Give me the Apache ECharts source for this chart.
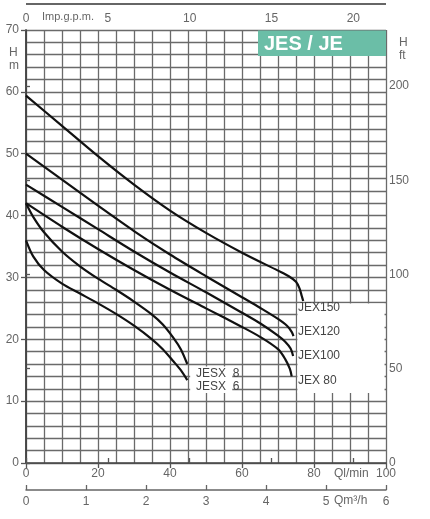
<!DOCTYPE html>
<html><head><meta charset="utf-8">
<script src="https://cdn.jsdelivr.net/npm/echarts@6/dist/echarts.min.js"></script>
<style>html,body{margin:0;padding:0;background:#fff}#c{width:430px;height:519px}</style>
</head><body><div id="c"></div>
<script>
// Flow (l/min) and head (m)
const flowJEX150 = [0, 10, 20, 30, 40, 50, 60, 70, 73, 75, 76, 76.6, 77];
const headJEX150 = [59.4, 54.5, 49.6, 45.0, 40.8, 37.2, 34.0, 31.1, 30.2, 29.3, 28.2, 27.0, 26.2];
const flowJEX120 = [0, 10, 20, 30, 40, 50, 60, 65, 70, 72.5, 73.8, 74.3];
const headJEX120 = [50, 45.8, 41.6, 37.5, 33.7, 30.2, 26.8, 25.1, 23.3, 22.2, 21.2, 20.5];
const flowJEX100 = [0, 10, 20, 30, 40, 50, 60, 65, 70, 72, 73.5, 74.2];
const headJEX100 = [45, 41.4, 37.8, 34.2, 30.8, 27.6, 24.3, 22.6, 20.6, 19.6, 18.5, 17.3];
const flowJEX80 = [0, 10, 20, 30, 40, 50, 60, 65, 70, 72, 73.3, 73.8];
const headJEX80 = [42, 38.2, 34.6, 31.2, 28.0, 25.0, 22.0, 20.4, 18.4, 16.8, 15.2, 14.0];
const flowJESX8 = [0, 2, 5, 10, 15, 20, 25, 30, 35, 38, 41, 43, 44.8];
const headJESX8 = [42, 39.8, 37.3, 34.2, 31.8, 29.8, 28.0, 26.1, 24.0, 22.4, 20.2, 18.4, 16.0];
const flowJESX6 = [0, 2, 5, 10, 15, 20, 25, 30, 35, 38, 41, 43, 44.8];
const headJESX6 = [36, 33.4, 31.2, 29.0, 27.4, 25.8, 24.1, 22.2, 20.0, 18.4, 16.4, 15.0, 13.4];
const seriesNames = ['JEX150', 'JEX120', 'JEX100', 'JEX 80', 'JESX 8', 'JESX 6'];
const flows = [flowJEX150, flowJEX120, flowJEX100, flowJEX80, flowJESX8, flowJESX6];
const heads = [headJEX150, headJEX120, headJEX100, headJEX80, headJESX8, headJESX6];
const title = 'JES / JE';

const FONT = 'Liberation Sans';
const gridLine = {color: '#6a6a6a', width: 1.3};
const lbl = {color: '#666', fontSize: 12, fontFamily: FONT};

const chart = echarts.init(document.getElementById('c'), null, {renderer: 'canvas'});

const lineSeries = seriesNames.map((n, i) => ({
  name: n, type: 'line', xAxisIndex: 0, yAxisIndex: 0, z: 3,
  smooth: 0.3, symbol: 'none', silent: true,
  lineStyle: {color: '#111', width: 2.2},
  data: flows[i].map((q, j) => [q, heads[i][j]])
}));

const boxSeries = {
  type: 'line', data: [], z: 1, silent: true,
  markArea: {
    silent: true,
    itemStyle: {color: '#fff', opacity: 1},
    data: [
      [{coord: [75.4, 25.8]}, {coord: [99.6, 11.3]}],
      [{coord: [45.6, 15.6]}, {coord: [57.3, 11.3]}]
    ]
  }
};

const txt = (x, y, s, extra) => Object.assign({
  type: 'text', x: x, y: y, z: 50,
  style: Object.assign({text: s, fill: '#666', font: '12px ' + FONT, textVerticalAlign: 'middle'}, extra || {})
});

chart.setOption({
  animation: false,
  backgroundColor: '#fff',
  grid: {left: 26, right: 44, top: 30, bottom: 56, containLabel: false},
  xAxis: [
    {type: 'value', position: 'bottom', min: 0, max: 100, interval: 20,
     axisLine: {show: true, lineStyle: {color: '#444', width: 1.5}},
     axisTick: {show: true, length: 5, lineStyle: {color: '#555', width: 1.3}},
     axisLabel: Object.assign({margin: 5}, lbl),
     splitLine: {show: true, lineStyle: gridLine},
     minorTick: {show: false, splitNumber: 4},
     minorSplitLine: {show: true, lineStyle: gridLine}},
    {type: 'value', position: 'top', min: 0, max: 100 / 4.54609, interval: 5,
     axisLine: {show: false},
     axisTick: {show: true, length: 5, lineStyle: {color: '#555', width: 1.3}},
     axisLabel: Object.assign({margin: 5, showMaxLabel: false}, lbl),
     splitLine: {show: false}},
    {type: 'value', position: 'bottom', offset: 27, min: 0, max: 6, interval: 1,
     axisLine: {show: true, lineStyle: {color: '#666', width: 1.5}},
     axisTick: {show: true, inside: true, length: 5, lineStyle: {color: '#666', width: 1.3}},
     axisLabel: Object.assign({margin: 6}, lbl),
     splitLine: {show: false}}
  ],
  yAxis: [
    {type: 'value', position: 'left', min: 0, max: 70, interval: 10,
     axisLine: {show: true, lineStyle: {color: '#444', width: 1.5}},
     axisTick: {show: true, length: 5, lineStyle: {color: '#555', width: 1.3}},
     axisLabel: Object.assign({margin: 7}, lbl),
     splitLine: {show: true, lineStyle: gridLine},
     minorTick: {show: false, splitNumber: 5},
     minorSplitLine: {show: true, lineStyle: gridLine}},
    {type: 'value', position: 'right', min: 0, max: 70 / 0.3048, interval: 50,
     axisLine: {show: true, lineStyle: {color: '#444', width: 1.5}},
     axisTick: {show: true, length: 4, lineStyle: {color: '#555', width: 1.3}},
     axisLabel: Object.assign({margin: 3, showMaxLabel: false}, lbl),
     splitLine: {show: false}}
  ],
  series: lineSeries.concat([boxSeries]),
  graphic: [
    {type: 'rect', z: 60, left: 26, top: 3, shape: {x: 0, y: 0, width: 360, height: 2}, style: {fill: '#666'}},
    txt(42, 17, 'Imp.g.p.m.', {font: '11px ' + FONT}),
    txt(9, 53, 'H'), txt(9, 66, 'm'),
    txt(399, 43, 'H'), txt(399, 56, 'ft'),
    txt(334, 474, 'Ql/min'),
    txt(334, 501, 'Qm³/h'),
    txt(298, 308, 'JEX150', {fill: '#444'}),
    txt(298, 332, 'JEX120', {fill: '#444'}),
    txt(298, 356, 'JEX100', {fill: '#444'}),
    txt(298, 381, 'JEX 80', {fill: '#444'}),
    txt(196, 374, 'JESX  8', {fill: '#444'}),
    txt(196, 387, 'JESX  6', {fill: '#444'}),
    {type: 'rect', z: 60, shape: {x: 258, y: 30.5, width: 128, height: 25.5}, style: {fill: '#6bbea7'}},
    {type: 'text', z: 61, x: 264, y: 44, style: {text: title, fill: '#fff', font: 'bold 20px ' + FONT, textVerticalAlign: 'middle'}}
  ]
});
</script>
</body></html>
